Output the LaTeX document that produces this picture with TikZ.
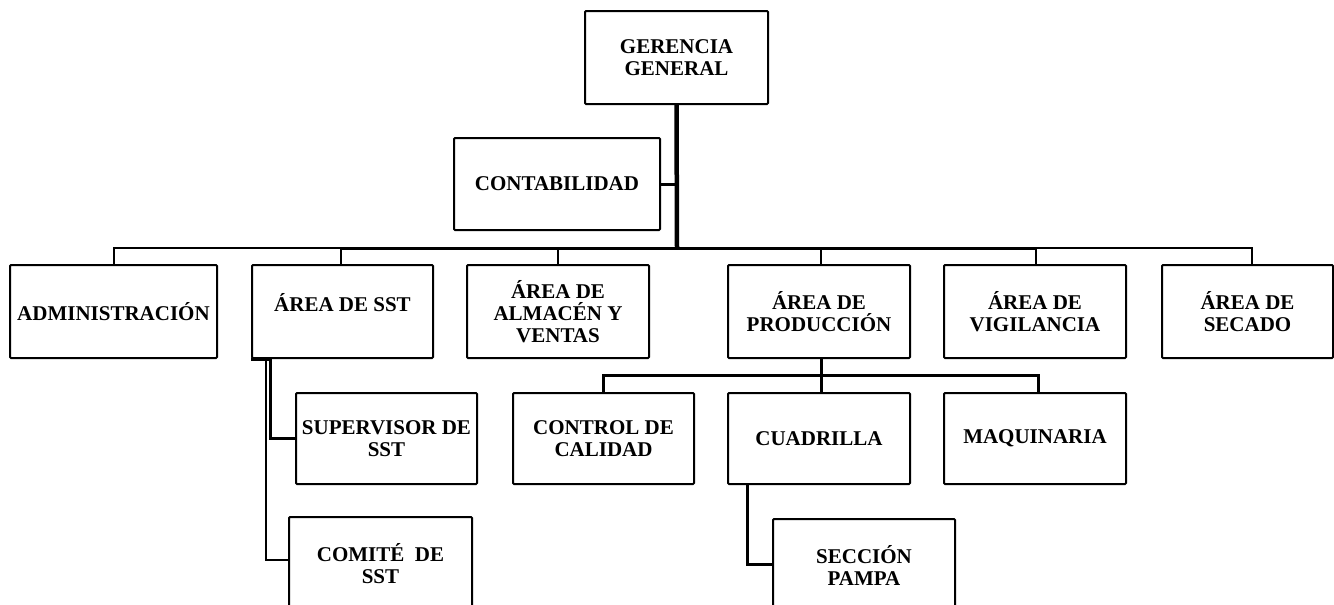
\documentclass[tikz,border=0pt]{standalone}
\usepackage{fontspec}
\setmainfont{Liberation Serif}
\usetikzlibrary{calc}
\tikzset{
  orgbox/.style={draw=black, line width=2pt, rounded corners=1pt, minimum width=#1, minimum height=93pt, inner sep=0pt, align=center, font=\fontsize{21}{22}\selectfont\bfseries},
  orgbox/.default=182pt,
  lbl/.style={inner sep=0pt, align=center, font=\fontsize{21}{22}\selectfont\bfseries},
  thinline/.style={line width=2pt},
  midline/.style={line width=3pt},
  trunkline/.style={line width=4.5pt}
}
\begin{document}
\begin{tikzpicture}[x=1pt,y=-1pt]
\useasboundingbox (0,0) rectangle (1334,605);
% level 0
\node[orgbox=183pt] (ger) at (676.5,57.5) {GERENCIA\\GENERAL};
\node[orgbox=206pt, minimum height=92pt] (cont) at (557,184) {CONTABILIDAD};
% level 1
\node[orgbox=207pt] (adm) at (113.5,311.5) {ADMINISTRACIÓN};
\node[orgbox=181pt] (sst) at (342.5,311.5) {};
\node[lbl] (sstt) at (342.5,303) {ÁREA DE SST};
\node[orgbox] (alm) at (558,311.5) {ÁREA DE\\ALMACÉN Y\\VENTAS};
\node[orgbox] (prod) at (819,311.5) {ÁREA DE\\PRODUCCIÓN};
\node[orgbox] (vig) at (1035,311.5) {ÁREA DE\\VIGILANCIA};
\node[orgbox=171pt] (sec) at (1247.5,311.5) {ÁREA DE\\SECADO};
% level 2
\node[orgbox=181pt, minimum height=91pt] (sup) at (386.5,438.5) {SUPERVISOR DE\\SST};
\node[orgbox=181pt, minimum height=91pt] (ctrl) at (603.5,438.5) {CONTROL DE\\CALIDAD};
\node[orgbox, minimum height=91pt] (cuad) at (819,438.5) {CUADRILLA};
\node[orgbox, minimum height=91pt] (maq) at (1035,438.5) {MAQUINARIA};
% level 3
\node[orgbox=183pt] (com) at (380.5,563.5) {COMITÉ~~DE\\SST};
\node[orgbox] (secc) at (864,565.5) {SECCIÓN\\PAMPA};
% connectors
\coordinate (bus) at (677,248);
\draw[trunkline] (ger.south) -- (bus);
\draw[midline] (cont.east) -- (cont.east -| ger.south);
\draw[thinline] (adm.north) |- ([xshift=-1.5pt]sst.north |- bus) -- ([xshift=-1.5pt]sst.north);
\draw[midline] ([xshift=-1.5pt]sst.north |- bus) -- ([xshift=1pt]vig.north |- bus);
\draw[thinline] ([xshift=1pt]vig.north |- bus) -- ([xshift=1pt]vig.north);
\draw[thinline] ([xshift=1pt]vig.north |- bus) -| ([xshift=4.5pt]sec.north);
\draw[thinline] (alm.north |- bus) -- (alm.north);
\draw[thinline] ([xshift=2pt]prod.north |- bus) -- ([xshift=2pt]prod.north);
% production
\coordinate (pbus) at ($(prod.south)!0.5!(cuad.north)$);
\draw[midline] ([xshift=2pt]prod.south) -- ([xshift=2pt]cuad.north);
\draw[midline] (ctrl.north) |- ([xshift=2pt]pbus) -- ([xshift=3pt]maq.north |- pbus) -- ([xshift=3pt]maq.north);
\draw[midline] ([xshift=20pt]cuad.south west) |- ([yshift=1.5pt]secc.west);
% SST
\draw[midline] (sst.south west) -- ++(19,0) |- (sup.west);
\draw[thinline] ([xshift=15pt]sst.south west) |- ([yshift=3.5pt]com.west);
\end{tikzpicture}
\end{document}
